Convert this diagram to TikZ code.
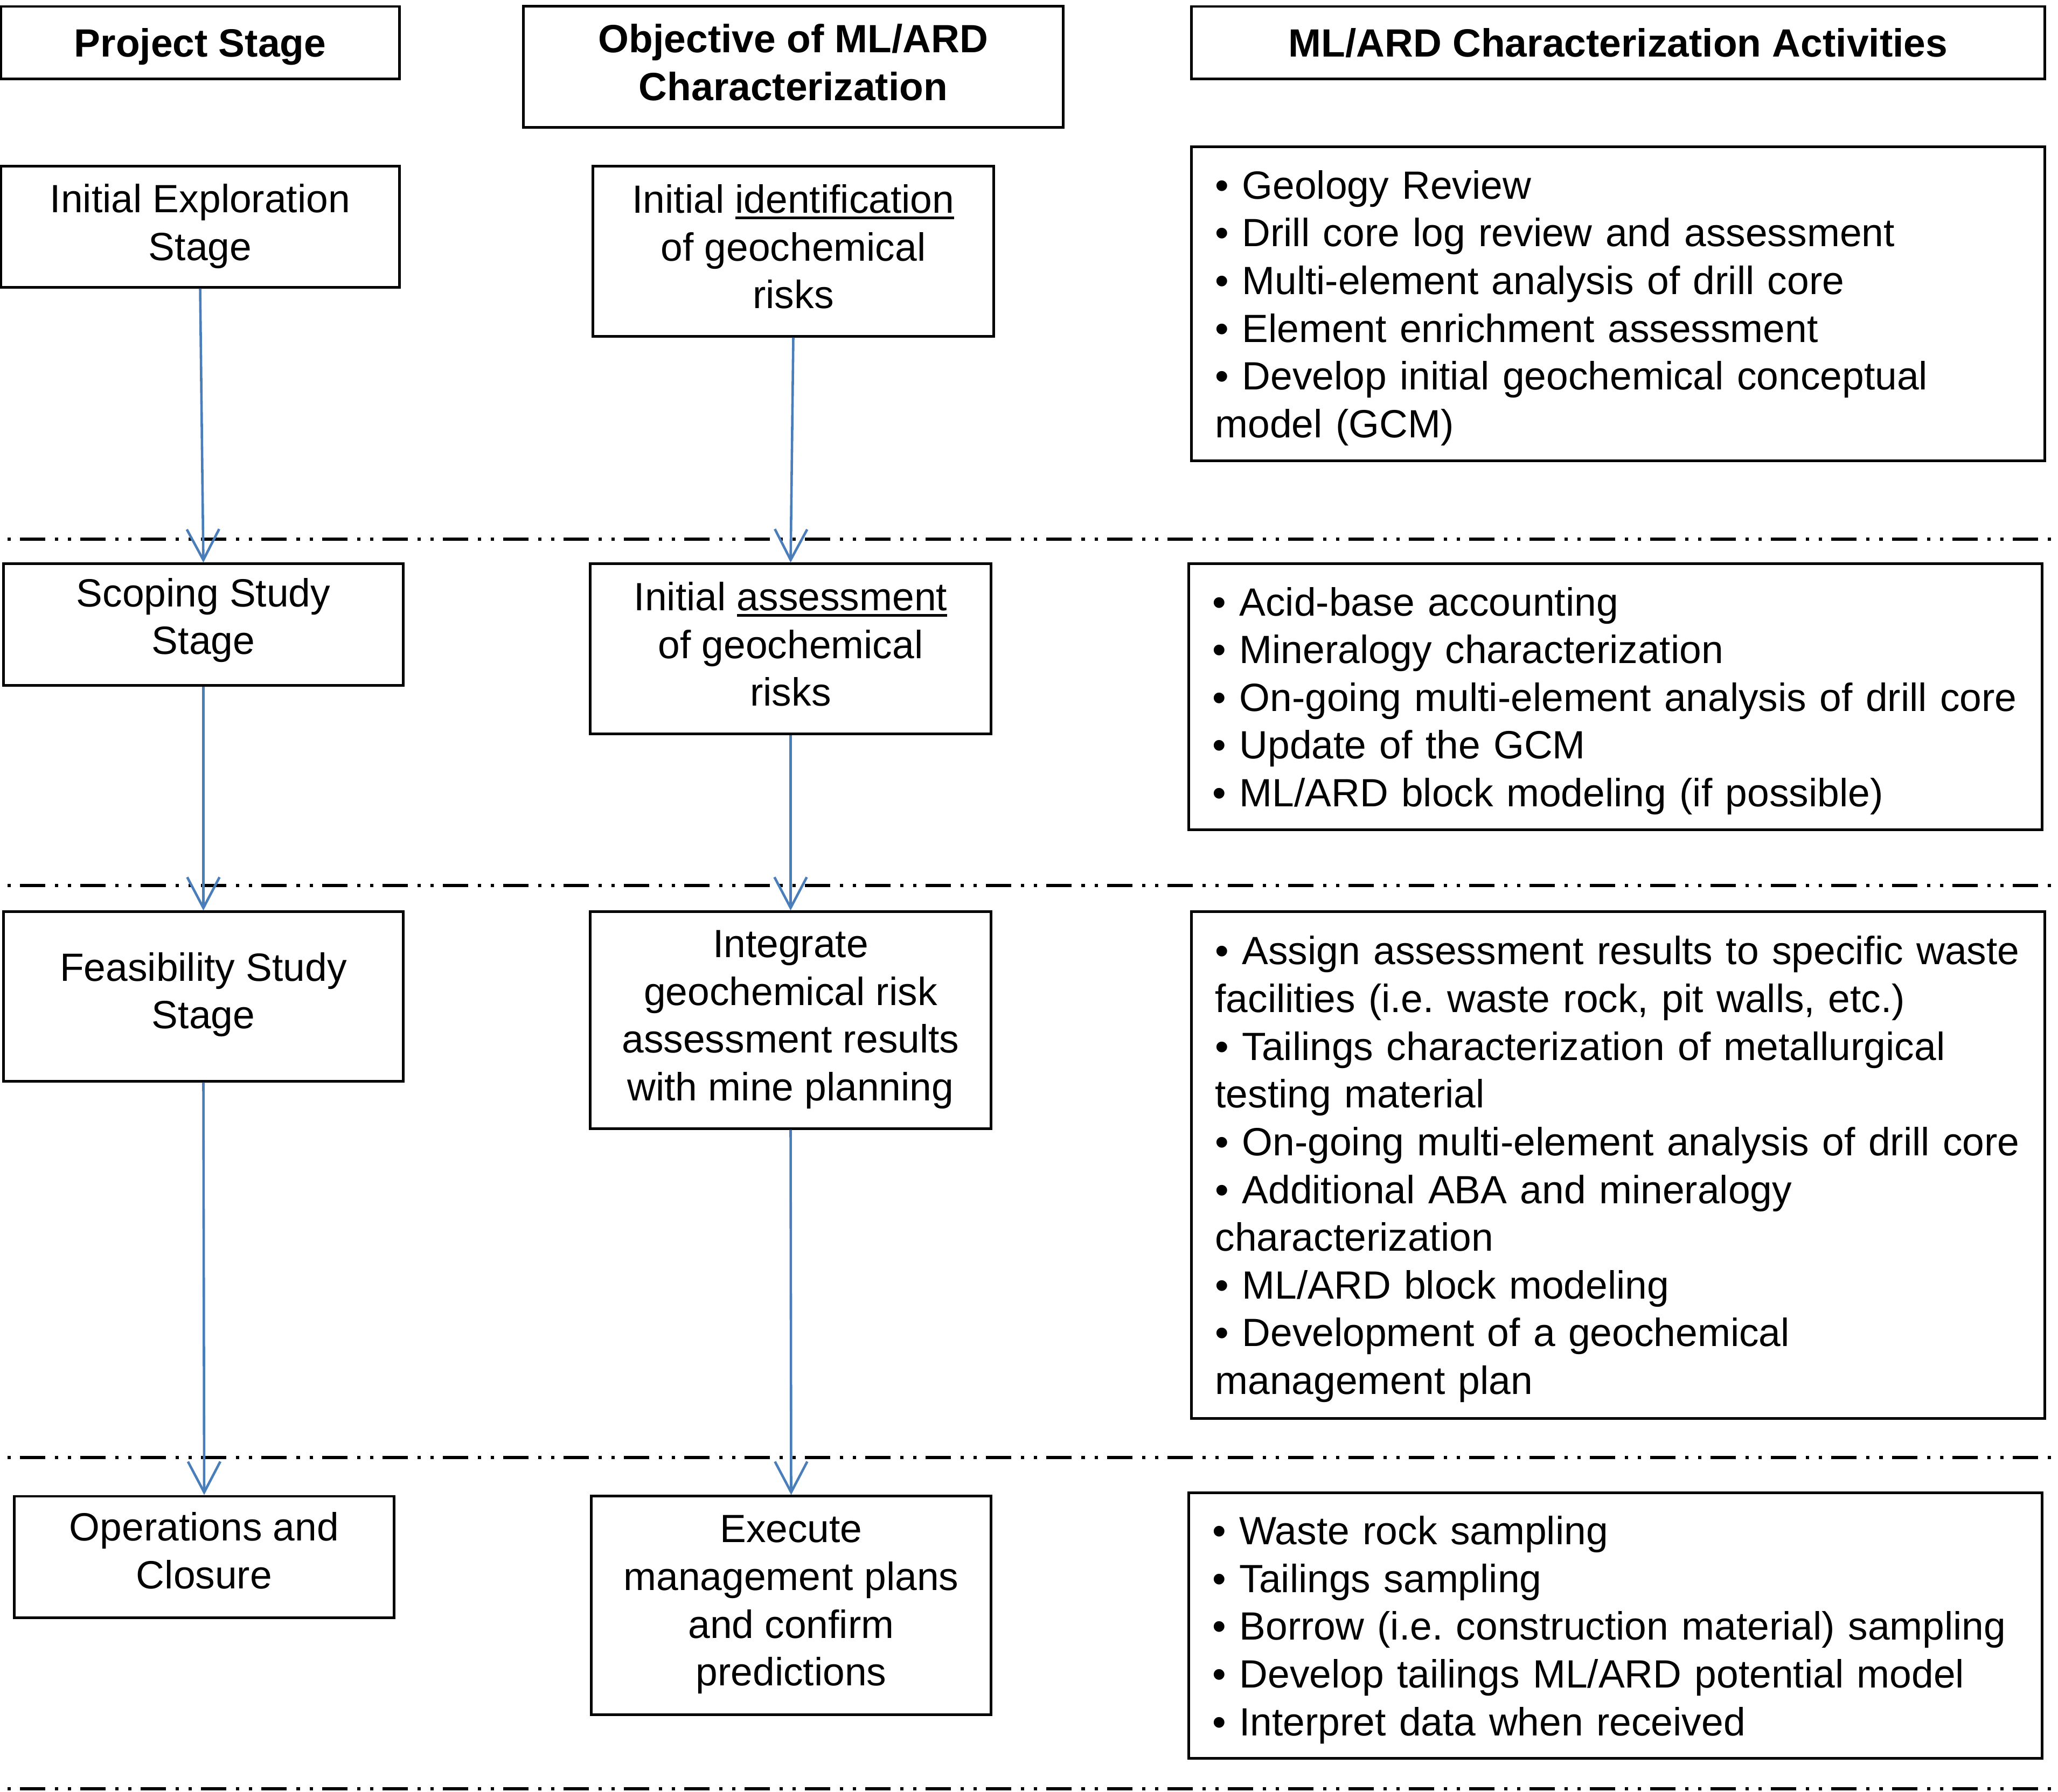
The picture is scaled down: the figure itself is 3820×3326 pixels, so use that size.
\documentclass[tikz,border=0pt]{standalone}
\usepackage{fontspec}
\setmainfont{Liberation Sans}
\usetikzlibrary{arrows.meta}
\definecolor{flowblue}{HTML}{4A7EBB}
\newcommand\boxstrut{\rule[-\strutdrop]{0pt}{25.2pt}}
\newcommand\markword[1]{\setbox0\hbox{#1}\rlap{\rule[-3.3pt]{\wd0}{1.4pt}}\box0}

\tikzset{
  strut drop/.store in=\strutdrop, strut drop=5pt,
  box/.style={draw, line width=1.4pt, inner sep=0pt, align=center,
    font=\fontsize{20.8pt}{25.2pt}\selectfont,
    execute at begin node=\boxstrut, execute at end node=\boxstrut},
  headbox/.style={box, font=\fontsize{20.8pt}{25.2pt}\selectfont\bfseries},
  listbox/.style={box, align=left, inner xsep=0.44cm, text width=14.95cm,
    execute at begin node={\frenchspacing\hyphenpenalty=10000}},
  flow/.style={draw=flowblue, line width=1.3pt,
    -{Straight Barb[length=0.57cm,width=0.6cm]}},
  phase/.style={line width=1.7pt,
    dash pattern=on 13.37pt off 5.12pt on 1.71pt off 5.12pt on 1.71pt off 4.84pt,
    dash phase=21.3pt},
}

\begin{document}
\begin{tikzpicture}[x=0.01cm, y=-0.01cm]
\useasboundingbox (0,0) rectangle (3820,3326);

% column heads
\node[headbox, minimum width=7.39cm, minimum height=1.34cm] (hStage) at (371.5,79) {Project Stage};
\node[headbox, minimum width=10.01cm, minimum height=2.24cm] (hGoal) at (1472.5,124) {Objective of ML/ARD\\Characterization};
\node[headbox, minimum width=15.83cm, minimum height=1.34cm] (hTask) at (3003.5,79) {ML/ARD Characterization Activities};

% project stages
\node[box, minimum width=7.39cm, minimum height=2.24cm] (stA) at (371.5,421) {Initial Exploration\\Stage};
\node[box, strut drop=8.8pt, minimum width=7.41cm, minimum height=2.25cm] (stB) at (377.5,1159.5) {Scoping Study\\Stage};
\node[box, strut drop=6.3pt, minimum width=7.41cm, minimum height=3.14cm] (stC) at (377.5,1850) {Feasibility Study\\Stage};
\node[box, strut drop=7pt, minimum width=7.04cm, minimum height=2.25cm] (stD) at (379,2890.5) {Operations and\\Closure};

% objectives
\node[box, minimum width=7.43cm, minimum height=3.15cm] (goalA) at (1472.5,466.5) {Initial \markword{identification}\\of geochemical\\risks};
\node[box, minimum width=7.43cm, minimum height=3.15cm] (goalB) at (1467.5,1204.5) {Initial \markword{assessment}\\of geochemical\\risks};
\node[box, minimum width=7.43cm, minimum height=4.02cm] (goalC) at (1467.5,1894) {Integrate\\geochemical risk\\assessment results\\with mine planning};
\node[box, minimum width=7.41cm, minimum height=4.05cm] (goalD) at (1468.5,2980.5) {Execute\\management plans\\and confirm\\predictions};

% activities
\node[listbox, minimum height=5.82cm] (taskA) at (3003.5,564) {%
• Geology Review\\
• Drill core log review and assessment\\
• Multi-element analysis of drill core\\
• Element enrichment assessment\\
• Develop initial geochemical conceptual\\
model (GCM)};
\node[listbox, minimum height=4.93cm] (taskB) at (2998.5,1293.5) {%
• Acid-base accounting\\
• Mineralogy characterization\\
• On-going multi-element analysis of drill core\\
• Update of the GCM\\
• ML/ARD block modeling (if possible)};
\node[listbox, minimum height=9.40cm] (taskC) at (3003.5,2163) {%
• Assign assessment results to specific waste\\
facilities (i.e. waste rock, pit walls, etc.)\\
• Tailings characterization of metallurgical\\
testing material\\
• On-going multi-element analysis of drill core\\
• Additional ABA and mineralogy\\
characterization\\
• ML/ARD block modeling\\
• Development of a geochemical\\
management plan};
\node[listbox, minimum height=4.92cm] (taskD) at (2998.5,3018) {%
• Waste rock sampling\\
• Tailings sampling\\
• Borrow (i.e. construction material) sampling\\
• Develop tailings ML/ARD potential model\\
• Interpret data when received};

% stage borders
\foreach \y/\n in {1001/a, 1644/b, 2706/c, 3321/d} {
  \coordinate (lineL\n) at (0,\y);
  \coordinate (lineR\n) at (3820,\y);
  \draw[phase] (lineL\n) -- (lineR\n);
}

% arrows
\draw[flow] (stA.south) -- (stB.north);
\draw[flow] (stB.south) -- (stC.north);
\draw[flow] (stC.south) -- (stD.north);
\draw[flow] (goalA.south) -- (goalB.north);
\draw[flow] (goalB.south) -- (goalC.north);
\draw[flow] (goalC.south) -- (goalD.north);
\end{tikzpicture}
\end{document}
